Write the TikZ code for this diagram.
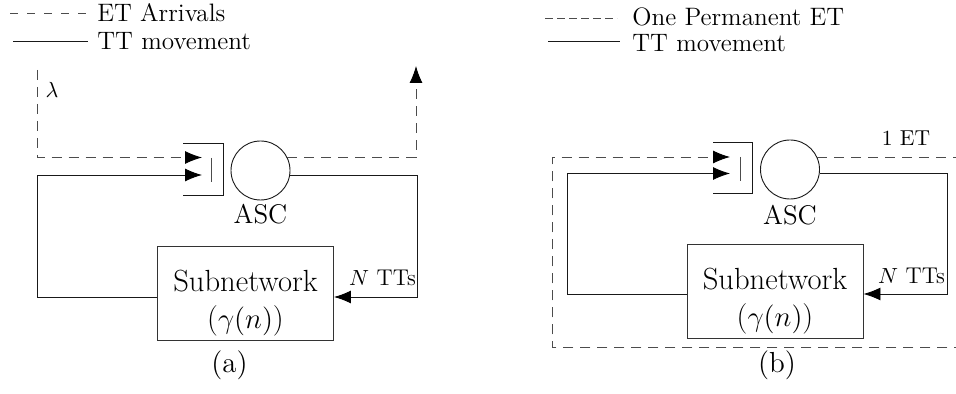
\documentclass[tikz,border=0pt]{standalone}
\usetikzlibrary{arrows.meta}
\begin{document}
\begin{tikzpicture}[x=0.5pt,y=-0.5pt,
  etline/.style={draw=black!70, dash pattern=on 5pt off 3.5pt, line width=0.45pt},
  ttline/.style={draw=black!90, line width=0.45pt},
  tip/.style={-{Latex[length=8.5pt,width=6.5pt,black]}},
  server/.style={circle, draw=black!90, line width=0.45pt, minimum size=29.5pt, inner sep=0pt},
  subbox/.style={rectangle, draw=black!80, line width=0.45pt, minimum width=88pt, minimum height=47pt, inner sep=0pt},
  subtext/.style={align=center, font=\fontsize{15.3}{18.5}\selectfont, inner sep=0pt},
  legtext/.style={anchor=west, inner sep=0pt, font=\fontsize{12.6}{14}\selectfont},
  lbl/.style={inner sep=0pt, font=\fontsize{11.4}{13}\selectfont},
  captext/.style={inner sep=0pt, font=\fontsize{14.5}{16}\selectfont},
  asctext/.style={inner sep=0pt, font=\fontsize{13.5}{15}\selectfont}]
\useasboundingbox (0,0) rectangle (956,394);
\clip (0,0) rectangle (956,394);

%================ (a) ================
\coordinate (la1) at (10,13); \coordinate (la2) at (88,13);
\coordinate (la3) at (13,41); \coordinate (la4) at (88,41);
\draw[draw=black!70, dash pattern=on 4pt off 4.5pt, line width=0.45pt] (la1) -- (la2);
\draw[ttline] (la3) -- (la4);
\node[legtext] (leta) at (97,13) {ET Arrivals};
\node[legtext] (ltta) at (97,41) {TT movement};

\draw[ttline] (183,143) -- (223,143) -- (223,195) -- (183,195);
\draw[draw=black!70, line width=0.45pt] (211,158) -- (211,182);
\node[server] (asca) at (260.5,170.5) {};
\node[asctext] (ascla) at (260.5,214) {ASC};

\node[subbox] (suba) at (245.5,293) {};
\node[subtext] (subta) at (245.5,303) {Subnetwork\\($\gamma(n)$)};

\coordinate (srca) at (37,70);
\coordinate (qeta) at (202,157.5);
\coordinate (qtta) at (202,175);
\coordinate (outa) at (416,66);
\coordinate (ra) at (417,297);
\coordinate (lfa) at (37,297);

\draw[etline,tip] (srca) |- (qeta);
\draw[etline,tip] (asca.26) -| (outa);
\draw[ttline,tip] (asca.-9) -| (ra) -- (suba.east |- ra);
\draw[ttline,tip] (suba.west |- lfa) -- (lfa) |- (qtta);

\node[lbl] (lama) at (52,90) {$\lambda$};
\node[lbl] (ntta) at (382.5,278) {$N$ TTs};
\node[captext] (capa) at (229.5,365) {(a)};

%================ (b) ================
\coordinate (lb1) at (545,18); \coordinate (lb2) at (617,18);
\coordinate (lb3) at (548,41); \coordinate (lb4) at (620,41);
\draw[draw=black!70, dash pattern=on 4pt off 2pt, line width=0.45pt] (lb1) -- (lb2);
\draw[ttline] (lb3) -- (lb4);
\node[legtext] (letb) at (632,17) {One Permanent ET};
\node[legtext] (lttb) at (632,43) {TT movement};

\draw[ttline] (713,142) -- (752,142) -- (752,193) -- (713,193);
\draw[draw=black!70, line width=0.45pt] (740,157) -- (740,181);
\node[server] (ascb) at (790,169.5) {};
\node[asctext] (asclb) at (790,215) {ASC};

\node[subbox] (subb) at (775,291) {};
\node[subtext] (subtb) at (775,301) {Subnetwork\\($\gamma(n)$)};

\coordinate (qetb) at (730,157);
\coordinate (qttb) at (730,173.5);
\coordinate (trb) at (1000,347);
\coordinate (blb) at (552,347);
\coordinate (rb) at (947,294);
\coordinate (lfb) at (567,294);

\draw[etline,tip] (ascb.24) -- (ascb.24 -| trb) -- (trb) -- (blb) |- (qetb);
\draw[ttline,tip] (ascb.-8) -| (rb) -- (subb.east |- rb);
\draw[ttline,tip] (subb.west |- lfb) -- (lfb) |- (qttb);

\node[inner sep=0pt, font=\fontsize{10.8}{12}\selectfont] (oneet) at (906,138) {1 ET};
\node[lbl] (nttb) at (911.5,276) {$N$ TTs};
\node[captext] (capb) at (777,365) {(b)};
\end{tikzpicture}
\end{document}
